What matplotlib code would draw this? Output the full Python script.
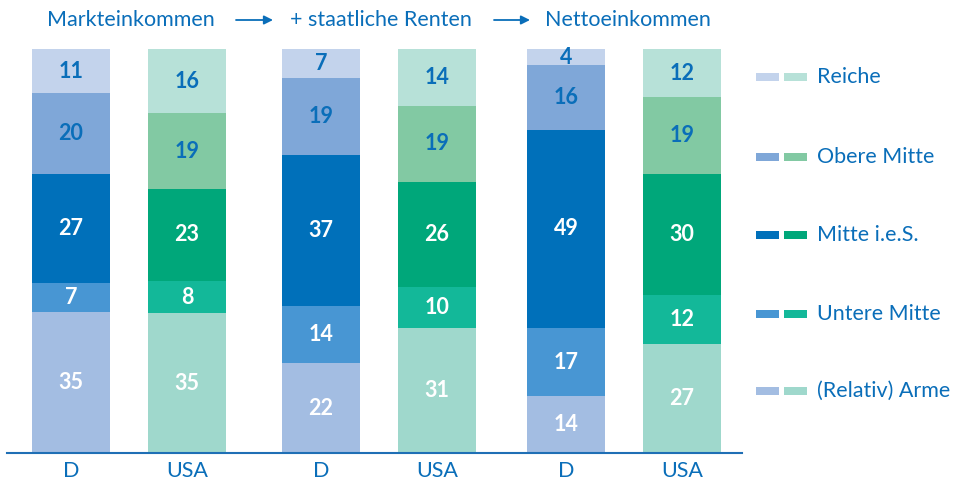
import matplotlib.pyplot as plt
import numpy as np
from matplotlib.patches import Rectangle

plt.rcParams['font.family'] = ['Lato', 'DejaVu Sans']

# Data
bar_labels = ['D', 'USA', 'D', 'USA', 'D', 'USA']
stages = ['Markteinkommen', '+ staatliche Renten', 'Nettoeinkommen']
groups = ['(Relativ) Arme', 'Untere Mitte', 'Mitte i.e.S.', 'Obere Mitte', 'Reiche']
# bottom to top, one list per bar
arme = [35, 35, 22, 31, 14, 27]
untere = [7, 8, 14, 10, 17, 12]
mitte = [27, 23, 37, 26, 49, 30]
obere = [20, 19, 19, 19, 16, 19]
reiche = [11, 16, 7, 14, 4, 12]

# colours
col_d = ['#a3bde2', '#4896d3', '#0070ba', '#7fa7d8', '#c3d3ec']
col_us = ['#9fd8cc', '#13b899', '#00a77a', '#82c9a3', '#b7e1d8']
txt_blue = '#0a6eb9'
txt_col = ['white', 'white', 'white', txt_blue, txt_blue]

fig = plt.figure(figsize=(9.58, 4.82), dpi=100)
W, H = 958, 482
ax = fig.add_axes([7 / W, 1 - 453 / H, (742 - 7) / W, (453 - 49) / H])
ax.set_xlim(7, 742)
ax.set_ylim(0, 100)

xpos = np.array([71, 187, 321, 437, 566, 682])
bw = 78
series = np.array([arme, untere, mitte, obere, reiche], dtype=float)
shares = series / series.sum(axis=0) * 100
bottom = np.zeros(len(xpos))
for i in range(len(groups)):
    cols = [col_d[i] if j % 2 == 0 else col_us[i] for j in range(len(xpos))]
    ax.bar(xpos, shares[i], bw, bottom=bottom, color=cols, linewidth=0)
    for j in range(len(xpos)):
        ax.text(xpos[j], bottom[j] + shares[i][j] / 2, str(int(series[i][j])),
                ha='center', va='center', fontsize=15.5, fontweight='bold',
                color=txt_col[i])
    bottom += shares[i]

for s in ['top', 'right', 'left']:
    ax.spines[s].set_visible(False)
ax.spines['bottom'].set_color('#1f6fb5')
ax.spines['bottom'].set_linewidth(1.5)
ax.set_yticks([])
ax.set_xticks(xpos)
ax.set_xticklabels(bar_labels, fontsize=15.5, color=txt_blue)
ax.tick_params(axis='x', length=0, pad=6)

# overlay in pixel coords for headings and legend
ov = fig.add_axes([0, 0, 1, 1])
ov.set_xlim(0, W)
ov.set_ylim(H, 0)
ov.axis('off')

stage_x = [131, 381, 628]
for k, name in enumerate(stages):
    ov.text(stage_x[k], 20, name, ha='center', va='center', fontsize=15.5, color=txt_blue)
for x0, x1 in [(236, 273), (494, 530)]:
    ov.annotate('', xy=(x1, 20), xytext=(x0, 20),
                arrowprops=dict(arrowstyle='-|>', color=txt_blue, lw=1.3,
                                mutation_scale=13, shrinkA=0, shrinkB=0))

leg_y = [391, 314, 235, 157, 77]
for i, name in enumerate(groups):
    y = leg_y[i]
    ov.add_patch(Rectangle((756, y - 4), 23, 8, color=col_d[i], lw=0))
    ov.add_patch(Rectangle((784, y - 4), 23, 8, color=col_us[i], lw=0))
    ov.text(817, y, name, ha='left', va='center', fontsize=15.5, color=txt_blue)

fig.savefig('out.png', dpi=100)
